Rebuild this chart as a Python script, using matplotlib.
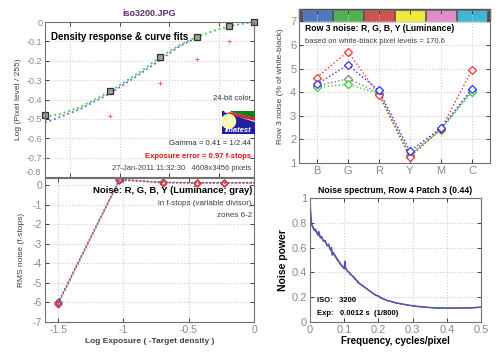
import matplotlib.pyplot as plt
import matplotlib.patches as mpatches
import numpy as np

plt.rcParams['font.family'] = ['Liberation Sans', 'DejaVu Sans']

# --- density response (top left) ---
dens_x = [-2.25, -1.60, -1.09, -0.72, -0.40, -0.15]
dens_y = [-0.48, -0.355, -0.18, -0.075, -0.022, 0.0]
dens_red_y = [-0.70, -0.484, -0.315, -0.193, -0.10, -0.017]
fit_green_x = [-2.25, -2.1, -1.9, -1.6, -1.3, -1.09, -0.9, -0.72, -0.55, -0.40, -0.25, -0.15, -0.05]
fit_green_y = [-0.49, -0.475, -0.44, -0.36, -0.26, -0.18, -0.12, -0.075, -0.045, -0.022, -0.008, 0.0, 0.005]
fit_blue_x = [-2.25, -1.9, -1.6, -1.3, -1.09, -0.9, -0.72]
fit_blue_y = [-0.52, -0.45, -0.37, -0.27, -0.195, -0.125, -0.08]

# --- noise in f-stops (bottom left) ---
stop_x = [-1.5, -1.03, -0.70, -0.44, -0.23, 0.05]
stop_r = [-6.10, 0.25, 0.12, 0.10, 0.10, 0.10]
stop_g = [-6.05, 0.27, 0.13, 0.11, 0.12, 0.12]
stop_b = [-6.00, 0.28, 0.14, 0.12, 0.12, 0.12]
stop_y = [-6.04, 0.30, 0.13, 0.11, 0.12, 0.12]

# --- row 3 noise (top right) ---
patches = ['B', 'G', 'R', 'Y', 'M', 'C']
patch_colors = ['#5078c0', '#52b052', '#d05252', '#f2ea3a', '#e08ccc', '#40b6d6']
row_r = [4.62, 5.72, 3.90, 1.25, 2.44, 4.94]
row_g = [4.20, 4.34, 3.94, 1.32, 2.41, 4.01]
row_b = [4.33, 5.16, 4.08, 1.50, 2.48, 4.13]
row_y = [4.26, 4.57, 3.98, 1.36, 2.45, 4.08]

# --- noise spectrum (bottom right) ---
freq = [0.0, 0.001, 0.003, 0.005, 0.008, 0.01, 0.013, 0.016, 0.02, 0.023, 0.026, 0.03,
        0.034, 0.038, 0.04, 0.044, 0.048, 0.05, 0.054, 0.058, 0.06, 0.063, 0.065, 0.068,
        0.07, 0.075, 0.08, 0.085, 0.09, 0.095, 0.1, 0.102, 0.104, 0.11, 0.115, 0.12,
        0.125, 0.13, 0.135, 0.14, 0.145, 0.15, 0.16, 0.17, 0.18, 0.19, 0.2, 0.21,
        0.22, 0.23, 0.24, 0.25, 0.27, 0.29, 0.31, 0.33, 0.35, 0.37, 0.39, 0.41,
        0.43, 0.45, 0.47, 0.49, 0.5]
pow_b = [1.0, 0.93, 0.84, 0.79, 0.77, 0.76, 0.74, 0.75, 0.72, 0.70, 0.73, 0.68,
         0.69, 0.66, 0.65, 0.66, 0.63, 0.62, 0.63, 0.60, 0.58, 0.60, 0.54, 0.56,
         0.55, 0.53, 0.50, 0.49, 0.46, 0.45, 0.43, 0.49, 0.44, 0.41, 0.40, 0.38,
         0.37, 0.35, 0.34, 0.32, 0.31, 0.30, 0.28, 0.26, 0.24, 0.22, 0.21, 0.19,
         0.18, 0.17, 0.165, 0.155, 0.145, 0.135, 0.128, 0.122, 0.117, 0.114, 0.113, 0.112,
         0.113, 0.114, 0.115, 0.118, 0.12]
pow_r = [1.0, 0.92, 0.83, 0.78, 0.77, 0.75, 0.75, 0.74, 0.73, 0.72, 0.71, 0.69,
         0.68, 0.66, 0.66, 0.65, 0.63, 0.62, 0.62, 0.60, 0.59, 0.58, 0.56, 0.56,
         0.55, 0.53, 0.51, 0.49, 0.47, 0.45, 0.43, 0.46, 0.43, 0.41, 0.40, 0.38,
         0.37, 0.36, 0.34, 0.33, 0.31, 0.30, 0.28, 0.26, 0.24, 0.22, 0.21, 0.195,
         0.18, 0.17, 0.163, 0.155, 0.145, 0.135, 0.127, 0.121, 0.117, 0.114, 0.112, 0.112,
         0.112, 0.113, 0.115, 0.117, 0.12]
pow_g = [0.98, 0.91, 0.82, 0.78, 0.76, 0.75, 0.74, 0.73, 0.72, 0.71, 0.70, 0.68,
         0.68, 0.66, 0.65, 0.65, 0.63, 0.61, 0.62, 0.59, 0.58, 0.58, 0.55, 0.55,
         0.54, 0.52, 0.50, 0.48, 0.46, 0.45, 0.43, 0.47, 0.43, 0.41, 0.39, 0.38,
         0.37, 0.35, 0.34, 0.32, 0.31, 0.30, 0.28, 0.26, 0.24, 0.22, 0.205, 0.19,
         0.18, 0.17, 0.162, 0.154, 0.144, 0.134, 0.126, 0.12, 0.116, 0.113, 0.112, 0.111,
         0.112, 0.113, 0.114, 0.117, 0.119]

TICK_C = '#8a8a8a'
GRID_C = '#cccccc'


def style(ax, lsize=6.5):
    for s in ax.spines.values():
        s.set_color('#707070')
        s.set_linewidth(0.8)
    ax.tick_params(direction='in', length=3, width=0.7, colors='#404040',
                   labelcolor=TICK_C, labelsize=lsize, top=True, right=True, pad=2)
    ax.grid(True, color=GRID_C, linestyle=':', linewidth=0.8)


fig = plt.figure(figsize=(5.0, 3.53), dpi=100)

# top left
ax1 = fig.add_axes([0.09, 0.4986, 0.418, 0.439])
style(ax1)
ax1.plot(fit_green_x, fit_green_y, ':', color='#30d030', lw=1.3)
ax1.plot(fit_blue_x, fit_blue_y, ':', color='#6060ff', lw=1.3)
ax1.plot(dens_x, dens_red_y, '+', color='#ff6060', ms=3, mew=0.7, clip_on=False)
ax1.plot(dens_x, dens_y, 's', color='#a0a0a0', mec='#303030', ms=5, mew=0.9, clip_on=False)
ax1.set_xlim(-2.25, -0.15)
ax1.set_ylim(-0.8, 0)
ax1.set_xticks([-2.0, -1.5, -1.0, -0.5])
ax1.set_xticklabels([])
ax1.set_yticks(np.arange(-0.8, 0.01, 0.1))
ax1.set_yticklabels(['', '-0.7', '-0.6', '-0.5', '-0.4', '-0.3', '-0.2', '-0.1', '0'])
ax1.text(-0.02, 0.0, '-0.8', transform=ax1.transAxes, fontsize=6.5, color=TICK_C,
         ha='right', va='bottom')
ax1.set_ylabel('Log (Pixel level / 255)', fontsize=6, color='#404040', labelpad=3)
ax1.set_title('iso3200.JPG', fontsize=6.5, fontweight='bold', color='#602870', pad=4)
ax1.text(0.03, 0.935, 'Density response & curve fits', transform=ax1.transAxes,
         fontsize=7, fontweight='bold', va='top')
ax1.text(0.985, 0.505, '24-bit color', transform=ax1.transAxes, fontsize=5.5,
         ha='right', va='center', color='#303030')
ax1.text(0.985, 0.215, 'Gamma = 0.41 = 1/2.44', transform=ax1.transAxes, fontsize=5.6,
         ha='right', va='center', color='#303030')
ax1.text(0.985, 0.135, 'Exposure error = 0.97 f-stops', transform=ax1.transAxes,
         fontsize=5.5, ha='right', va='center', color='#e01010', fontweight='bold')
ax1.text(0.985, 0.055, '27-Jan-2011 11:32:30   4608x3456 pixels', transform=ax1.transAxes,
         fontsize=5.5, ha='right', va='center', color='#404040')

# imatest logo
logo = fig.add_axes([222 / 500, 1 - 134 / 353, 33 / 500, 23 / 353])
logo.set_xlim(0, 1)
logo.set_ylim(0, 1)
logo.axis('off')
logo.add_patch(mpatches.Rectangle((0, 0), 1, 1, color='#2020a0'))
logo.add_patch(mpatches.Polygon([[0.05, 1], [1, 1], [1, 0.55]], color='white'))
logo.add_patch(mpatches.Polygon([[0.25, 1], [1, 1], [1, 0.72]], color='#108020'))
logo.add_patch(mpatches.Polygon([[0.2, 0.92], [1, 0.68], [1, 0.6], [0.2, 0.88]], color='#e02020'))
logo.add_patch(mpatches.Ellipse((0.2, 0.55), 0.42, 0.6, color='#fff8b0'))
logo.text(0.5, 0.17, 'Imatest', fontsize=5.5, color='white', fontweight='bold',
          style='italic', ha='center', va='center')

# bottom left
ax2 = fig.add_axes([0.09, 0.0878, 0.418, 0.408])
style(ax2, 7.5)
ax2.plot(stop_x, stop_g, ':', color='#40c040', lw=1.0)
ax2.plot(stop_x, stop_b, ':', color='#4040ff', lw=1.0)
ax2.plot(stop_x, stop_y, ':', color='#808080', lw=1.0)
ax2.plot(stop_x, stop_r, ':', color='#ff4040', lw=1.0)
for vals, c in [(stop_g, '#40c040'), (stop_b, '#4040ff'), (stop_y, '#808080'), (stop_r, '#ff2020')]:
    ax2.plot(stop_x, vals, 'D', mfc='none', mec=c, ms=3.5, mew=0.9)
ax2.set_xlim(-1.6, 0)
ax2.set_ylim(-7, 0.36)
ax2.set_xticks([-1.5, -1.0, -0.5, 0])
ax2.set_xticklabels(['-1.5', '-1', '-0.5', '0'])
ax2.set_yticks([-7, -6, -5, -4, -3, -2, -1, 0])
ax2.set_yticklabels(['-7', '-6', '-5', '-4', '-3', '-2', '-1', '0'])
ax2.set_ylabel('RMS noise (f-stops)', fontsize=6, color='#404040', labelpad=6)
ax2.set_xlabel('Log Exposure ( -Target density )', fontsize=6, fontweight='bold',
               color='#404040', labelpad=2)
ax2.text(0.99, 0.915, 'Noise: R, G, B, Y (Luminance; gray)', transform=ax2.transAxes,
         fontsize=6.8, fontweight='bold', ha='right', va='center')
ax2.text(0.99, 0.82, 'in f-stops (variable divisor)', transform=ax2.transAxes,
         fontsize=5.8, ha='right', va='center', color='#404040')
ax2.text(0.99, 0.74, 'zones 6-2', transform=ax2.transAxes,
         fontsize=5.8, ha='right', va='center', color='#404040')

# top right
ax3 = fig.add_axes([0.598, 0.538, 0.382, 0.435])
style(ax3, 8)
xs = np.arange(1, len(patches) + 1)
ax3.add_patch(mpatches.Rectangle((0.43, 7.0), 6.15, 0.52, color='#505050', clip_on=False))
for i, c in enumerate(patch_colors):
    ax3.add_patch(mpatches.Rectangle((xs[i] - 0.45, 7.0), 0.9, 0.52, color=c))
for vals, c in [(row_y, '#808080'), (row_g, '#30d030'), (row_r, '#ff3030'), (row_b, '#3030ff')]:
    ax3.plot(xs, vals, ':', color=c, lw=1.0)
    ax3.plot(xs, vals, 'D', mfc='white', mec=c, ms=4, mew=0.9)
ax3.set_xlim(0.43, 6.58)
ax3.set_ylim(1, 7.5)
ax3.set_xticks(xs)
ax3.set_xticklabels(patches)
ax3.set_yticks([1, 2, 3, 4, 5, 6, 7])
ax3.set_ylabel('Row 3 noise (% of white-black)', fontsize=6, color='#404040', labelpad=4)
ax3.text(0.03, 0.875, 'Row 3 noise: R, G, B, Y (Luminance)', transform=ax3.transAxes,
         fontsize=6.2, fontweight='bold', va='center')
ax3.text(0.03, 0.795, 'based on white-black pixel levels = 170.6', transform=ax3.transAxes,
         fontsize=5.5, va='center', color='#404040')

# bottom right
ax4 = fig.add_axes([0.62, 0.0878, 0.342, 0.351])
style(ax4, 8)
ax4.plot(freq, pow_r, color='#e04040', lw=0.8)
ax4.plot(freq, pow_g, color='#30b060', lw=0.8)
ax4.plot(freq, pow_b, color='#5050c0', lw=1.0)
ax4.set_xlim(0, 0.5)
ax4.set_ylim(0, 1)
ax4.set_xticks([0, 0.1, 0.2, 0.3, 0.4, 0.5])
ax4.set_xticklabels(['0', '0.1', '0.2', '0.3', '0.4', '0.5'])
ax4.set_yticks([0, 0.2, 0.4, 0.6, 0.8, 1])
ax4.set_yticklabels(['0', '0.2', '0.4', '0.6', '0.8', '1'])
ax4.set_title('Noise spectrum, Row 4 Patch 3 (0.44)', fontsize=6.2, fontweight='bold', pad=4)
ax4.set_ylabel('Noise power', fontsize=7.5, fontweight='bold', labelpad=3)
ax4.set_xlabel('Frequency, cycles/pixel', fontsize=7, fontweight='bold', labelpad=1)
ax4.text(0.04, 0.17, 'ISO:   3200', transform=ax4.transAxes, fontsize=5.5,
         fontweight='bold', va='center')
ax4.text(0.04, 0.065, 'Exp:   0.0012 s  (1/800)', transform=ax4.transAxes, fontsize=5.5,
         fontweight='bold', va='center')

fig.savefig('out.png', dpi=100)
